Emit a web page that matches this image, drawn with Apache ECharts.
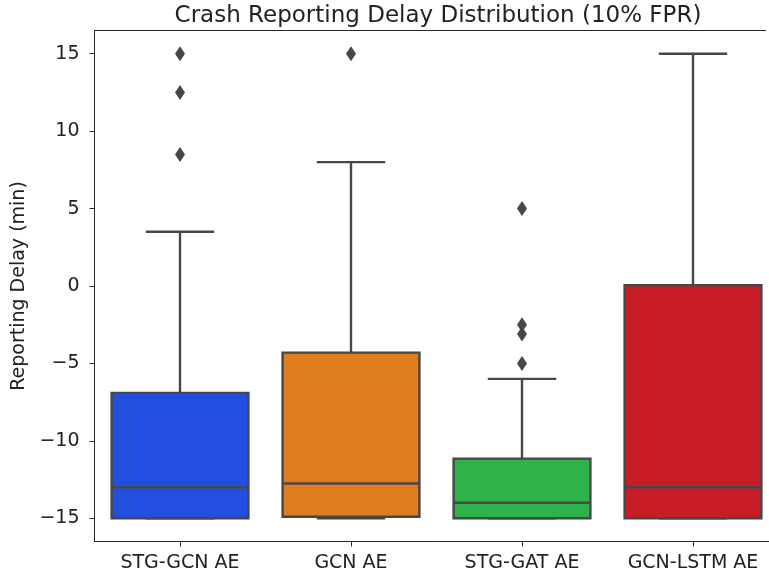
<!DOCTYPE html>
<html>
<head>
<meta charset="utf-8">
<script src="https://cdn.jsdelivr.net/npm/echarts@6/dist/echarts.min.js"></script>
<style>
  html, body { margin: 0; padding: 0; background: #fff; overflow: hidden; }
  #chart { width: 769px; height: 577px; }
</style>
</head>
<body>
<div id="chart"></div>
<script>
const categories = ['STG-GCN AE', 'GCN AE', 'STG-GAT AE', 'GCN-LSTM AE'];
const lowerWhisker = [-15, -15, -15, -15];
const q1 = [-15, -14.9, -15, -15];
const median = [-13, -12.75, -14, -13];
const q3 = [-6.9, -4.3, -11.15, 0.05];
const upperWhisker = [3.5, 8, -6, 15];
const boxColors = ['#224fe0', '#e07d1f', '#2eb24a', '#c81d27'];
// [category index, value]
const outliers = [[0, 15], [0, 12.5], [0, 8.5], [1, 15], [2, 5], [2, -2.5], [2, -3.1], [2, -5]];
const yTicks = [-15, -10, -5, 0, 5, 10, 15];

const edge = '#474747';
const spine = '#262626';
const textColor = '#222';
const font = 'DejaVu Sans';

const boxData = categories.map((c, i) => [i, lowerWhisker[i], q1[i], median[i], q3[i], upperWhisker[i]]);

const chart = echarts.init(document.getElementById('chart'));

chart.setOption({
  animation: false,
  title: {
    text: 'Crash Reporting Delay Distribution (10% FPR)',
    left: 433, top: 0, textAlign: 'center',
    textStyle: { fontFamily: font, fontSize: 23, fontWeight: 'normal', color: textColor }
  },
  // x range is -0.5..3.5, so the right edge of the axes runs past the window
  grid: {
    left: 94.5, top: 30.5, width: 684, bottom: 35.5,
    outerBoundsMode: 'none'
  },
  // top spine of the axes frame
  graphic: [{
    type: 'line',
    shape: { x1: 94.5, y1: 30.5, x2: 766, y2: 30.5 },
    style: { stroke: spine, lineWidth: 1 }
  }],
  xAxis: {
    type: 'category',
    data: categories,
    axisLine: { show: true, onZero: false, lineStyle: { color: spine, width: 1 } },
    axisTick: { show: true, alignWithLabel: true, length: 5, lineStyle: { color: spine } },
    axisLabel: { interval: 0, margin: 12, fontFamily: font, fontSize: 19, color: textColor }
  },
  yAxis: {
    type: 'value',
    min: -16.5, max: 16.5,
    name: 'Reporting Delay (min)',
    nameLocation: 'middle',
    nameGap: 64,
    nameTextStyle: { fontFamily: font, fontSize: 19, color: textColor },
    splitLine: { show: false },
    axisLine: { show: true, onZero: false, lineStyle: { color: spine, width: 1 } },
    axisTick: { show: true, length: 5, customValues: yTicks, lineStyle: { color: spine } },
    axisLabel: {
      margin: 15, fontFamily: font, fontSize: 19, color: textColor,
      customValues: yTicks,
      formatter: v => String(v).replace('-', '\u2212')
    }
  },
  series: [
    {
      type: 'custom',
      data: boxData,
      encode: { x: 0, y: [1, 2, 3, 4, 5] },
      renderItem(params, api) {
        const i = api.value(0);
        const band = api.size([1, 0])[0];
        const bw = band * 0.8;
        const cw = bw / 2;
        const cx = api.coord([i, 0])[0];
        const y = k => api.coord([i, api.value(k)])[1];
        const yLw = y(1), yQ1 = y(2), yMed = y(3), yQ3 = y(4), yUw = y(5);
        const ls = { stroke: edge, lineWidth: 2.4 };
        return {
          type: 'group',
          children: [
            { type: 'line', shape: { x1: cx, y1: yQ3, x2: cx, y2: yUw }, style: ls },
            { type: 'line', shape: { x1: cx, y1: yQ1, x2: cx, y2: yLw }, style: ls },
            { type: 'line', shape: { x1: cx - cw / 2, y1: yUw, x2: cx + cw / 2, y2: yUw }, style: ls },
            { type: 'line', shape: { x1: cx - cw / 2, y1: yLw, x2: cx + cw / 2, y2: yLw }, style: ls },
            {
              type: 'rect',
              shape: { x: cx - bw / 2, y: yQ3, width: bw, height: yQ1 - yQ3 },
              style: { fill: boxColors[i], stroke: edge, lineWidth: 2.4 }
            },
            { type: 'line', shape: { x1: cx - bw / 2, y1: yMed, x2: cx + bw / 2, y2: yMed }, style: ls }
          ]
        };
      }
    },
    {
      type: 'scatter',
      data: outliers,
      symbol: 'diamond',
      symbolSize: [10, 15],
      itemStyle: { color: edge, opacity: 1 }
    }
  ]
});
</script>
</body>
</html>
